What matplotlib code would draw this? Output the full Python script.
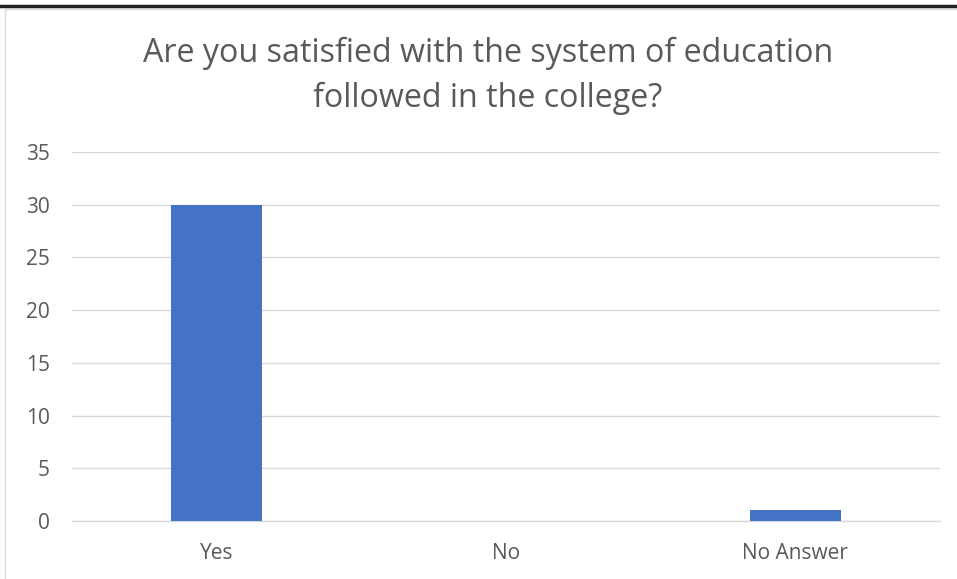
import matplotlib
matplotlib.use("Agg")
import matplotlib.pyplot as plt
from matplotlib.patches import Rectangle
from matplotlib.lines import Line2D

categories = ["Yes", "No", "No Answer"]
values = [30, 0, 1]
yticks = [0, 5, 10, 15, 20, 25, 30, 35]
title_lines = ["Are you satisfied with the system of education", "followed in the college?"]

plt.rcParams['font.family'] = ['Open Sans', 'DejaVu Sans']

fig = plt.figure(figsize=(9.57, 5.79), dpi=100)
W, H = 957, 579

# document underline and chart border
fig.add_artist(Line2D([0, 1], [1 - 5.5 / H, 1 - 5.5 / H], color="#222222", lw=2.5, transform=fig.transFigure))
fig.add_artist(Rectangle((5 / W, -0.01), 1.02 - 5 / W, 1 - 9 / H + 0.01, transform=fig.transFigure,
                         fill=False, edgecolor="#d9d9d9", lw=1))

ax = fig.add_axes([72 / W, 1 - 521 / H, (940 - 72) / W, (521 - 152) / H])
x = range(len(categories))
ax.bar(x, values, width=0.315, color="#4472c4", zorder=3)
ax.set_xlim(-0.5, len(categories) - 0.5)
ax.set_ylim(0, 35)
ax.set_yticks(yticks)
ax.set_xticks(list(x))
ax.set_xticklabels(categories)
ax.grid(axis="y", color="#d9d9d9", lw=1, zorder=0)
for s in ["top", "right", "left"]:
    ax.spines[s].set_visible(False)
ax.spines["bottom"].set_color("#d9d9d9")
ax.spines["bottom"].set_linewidth(1)
ax.tick_params(length=0, labelsize=15, colors="#595959")
ax.tick_params(axis="y", pad=16)
ax.tick_params(axis="x", pad=16)

fig.text(488 / W, 1 - 53 / H, title_lines[0], ha="center", va="center", fontsize=23.2, color="#595959")
fig.text(488 / W, 1 - 98 / H, title_lines[1], ha="center", va="center", fontsize=23.2, color="#595959")

fig.savefig("out.png", dpi=100)
